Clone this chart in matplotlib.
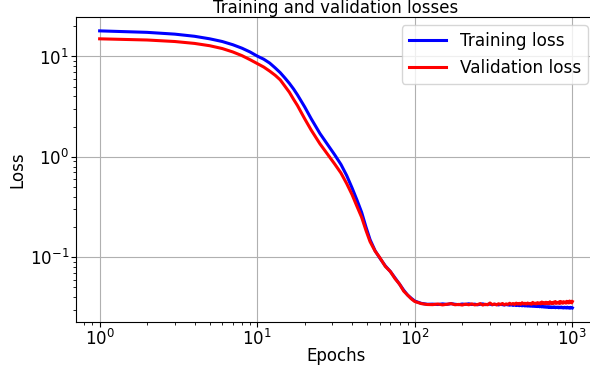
import matplotlib
matplotlib.use('Agg')
import matplotlib.pyplot as plt

# ---- values ----
epochs_head = [1, 2, 3, 4, 5, 6, 7, 8, 9, 10, 11, 12, 13, 14, 15, 16, 17, 18, 20, 22,
               25, 28, 31, 34, 37, 40, 43, 46, 49, 52, 56, 60, 65, 70, 75, 80, 85, 90,
               95, 100, 110, 120]

train_head = [18.0, 17.4, 16.7, 15.9, 15.0, 14.1, 13.1, 12.1, 11.1, 10.1, 9.4, 8.6, 7.7,
              6.9, 6.1, 5.4, 4.75, 4.15, 3.15, 2.4, 1.71, 1.32, 1.05, 0.84, 0.65, 0.49,
              0.37, 0.28, 0.20, 0.15, 0.116, 0.098, 0.082, 0.072, 0.062, 0.054, 0.047,
              0.042, 0.039, 0.0366, 0.0347, 0.0340]

val_head = [15.0, 14.6, 14.1, 13.5, 12.8, 12.0, 11.1, 10.2, 9.3, 8.5, 7.85, 7.15, 6.5,
            5.85, 5.05, 4.4, 3.75, 3.25, 2.4, 1.85, 1.35, 1.06, 0.85, 0.69, 0.54, 0.42,
            0.32, 0.25, 0.185, 0.143, 0.115, 0.099, 0.081, 0.072, 0.061, 0.054, 0.046,
            0.042, 0.0385, 0.0362, 0.0345, 0.0338]

epochs_tail = list(range(130, 1010, 10))

train_tail = [0.0341, 0.0338, 0.0343, 0.0339, 0.0345, 0.0340, 0.0337, 0.0342,
              0.0339, 0.0344, 0.0338, 0.0341, 0.0336, 0.0340, 0.0343, 0.0337, 0.0339, 0.0341,
              0.0336, 0.0340, 0.0338, 0.0335, 0.0339, 0.0337, 0.0334, 0.0338, 0.0335, 0.0333,
              0.0336, 0.0331, 0.0334, 0.0330, 0.0333, 0.0329, 0.0332, 0.0328, 0.0331, 0.0327,
              0.0330, 0.0326, 0.0329, 0.0325, 0.0328, 0.0324, 0.0327, 0.0323, 0.0326, 0.0322,
              0.0325, 0.0321, 0.0324, 0.0320, 0.0323, 0.0319, 0.0322, 0.0318, 0.0321, 0.0317,
              0.0321, 0.0316, 0.0320, 0.0315, 0.0319, 0.0316, 0.0320, 0.0314, 0.0318, 0.0315,
              0.0319, 0.0313, 0.0318, 0.0314, 0.0319, 0.0313, 0.0317, 0.0312, 0.0318, 0.0313,
              0.0317, 0.0312, 0.0318, 0.0313, 0.0316, 0.0311, 0.0317, 0.0312, 0.0316, 0.0313]

val_tail = [0.0337, 0.0342, 0.0335, 0.0340, 0.0345, 0.0336, 0.0339, 0.0334,
            0.0341, 0.0336, 0.0343, 0.0335, 0.0338, 0.0345, 0.0334, 0.0340, 0.0336, 0.0350,
            0.0337, 0.0342, 0.0335, 0.0344, 0.0338, 0.0346, 0.0336, 0.0343, 0.0339, 0.0348,
            0.0340, 0.0346, 0.0338, 0.0349, 0.0341, 0.0347, 0.0339, 0.0352, 0.0342, 0.0348,
            0.0341, 0.0350, 0.0343, 0.0347, 0.0340, 0.0355, 0.0344, 0.0349, 0.0342, 0.0353,
            0.0345, 0.0351, 0.0343, 0.0358, 0.0346, 0.0352, 0.0344, 0.0356, 0.0347, 0.0353,
            0.0345, 0.0360, 0.0348, 0.0354, 0.0346, 0.0357, 0.0349, 0.0362, 0.0347, 0.0355,
            0.0350, 0.0358, 0.0346, 0.0363, 0.0351, 0.0357, 0.0348, 0.0361, 0.0352, 0.0356,
            0.0349, 0.0364, 0.0352, 0.0358, 0.0350, 0.0366, 0.0353, 0.0359, 0.0351, 0.0362]

epochs = epochs_head + epochs_tail
train_loss = train_head + train_tail
val_loss = val_head + val_tail

# ---- plot ----
fig = plt.figure(figsize=(5.9, 3.73), dpi=100)
# axes runs a bit past the right edge, like the cropped original
ax = fig.add_axes([0.1288, 0.1367, 0.8814, 0.8177])

ax.plot(epochs, train_loss, color='blue', lw=2.2, label='Training loss')
ax.plot(epochs, val_loss, color='red', lw=2.2, label='Validation loss')
ax.set_xscale('log')
ax.set_yscale('log')

ax.set_title('Training and validation losses', fontsize=12, pad=3)
ax.set_xlabel('Epochs', fontsize=12, labelpad=-1.2)
ax.set_ylabel('Loss', fontsize=12, labelpad=2.4)
ax.tick_params(labelsize=12, pad=1.5)
ax.grid(True, which='major', color='#b0b0b0', lw=0.8)
ax.legend(loc='upper right', fontsize=12.2, handlelength=2.2)

fig.savefig('out.png', dpi=100)
